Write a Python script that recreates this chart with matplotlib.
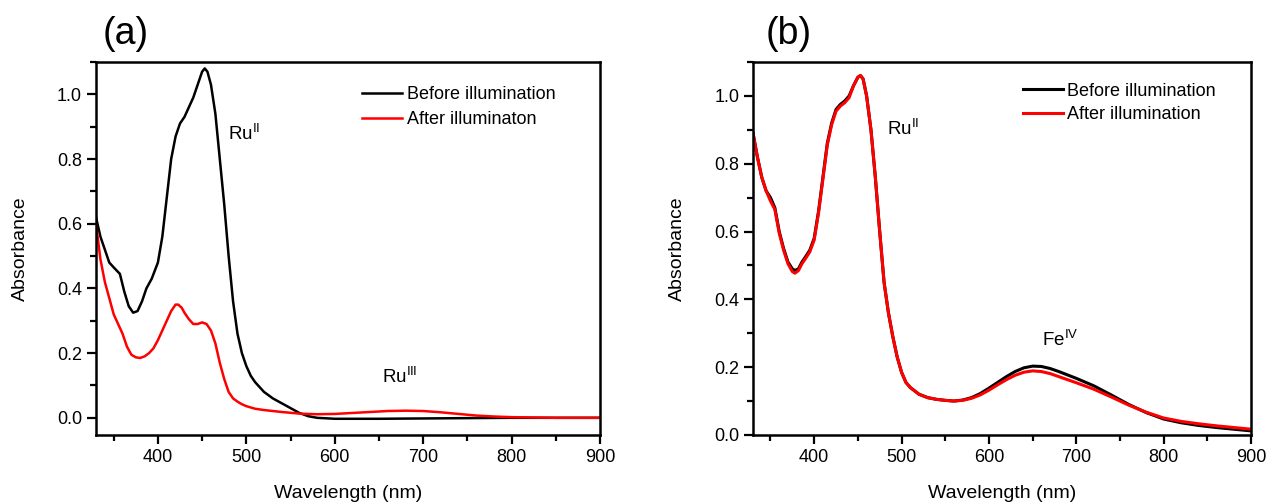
import matplotlib
matplotlib.use('Agg')
import matplotlib.pyplot as plt
from matplotlib.ticker import MultipleLocator

plt.rcParams['font.family'] = ['Liberation Sans', 'DejaVu Sans']

# Panel (a)
wl_a_before = [330, 335, 340, 345, 350, 357, 362, 367, 372, 377, 382, 387, 393, 400, 405, 410, 415, 420,
               425, 430, 435, 440, 445, 450, 453, 456, 460, 465, 470, 475, 480, 485, 490, 495, 500, 505,
               510, 520, 530, 540, 550, 560, 570, 580, 600, 650, 700, 750, 800, 850, 900]
abs_a_before = [0.62, 0.56, 0.52, 0.48, 0.465, 0.445, 0.39, 0.345, 0.325, 0.33, 0.36, 0.40, 0.43, 0.48, 0.56,
                0.68, 0.80, 0.87, 0.91, 0.93, 0.96, 0.99, 1.03, 1.07, 1.08, 1.07, 1.03, 0.94, 0.80, 0.66,
                0.50, 0.36, 0.26, 0.20, 0.16, 0.13, 0.11, 0.08, 0.06, 0.045, 0.03, 0.015, 0.005, 0.0,
                -0.003, -0.003, -0.002, -0.001, 0.0, 0.0, 0.0]

wl_a_after = [330, 335, 340, 345, 350, 355, 360, 365, 370, 375, 380, 385, 390, 395, 400, 405, 410, 415,
              420, 423, 427, 430, 435, 440, 445, 450, 455, 460, 465, 470, 475, 480, 485, 490, 495, 500,
              510, 520, 540, 560, 580, 600, 620, 640, 660, 680, 700, 720, 740, 760, 780, 800, 850, 900]
abs_a_after = [0.60, 0.49, 0.42, 0.37, 0.32, 0.29, 0.26, 0.22, 0.195, 0.187, 0.185, 0.19, 0.20, 0.215,
               0.24, 0.27, 0.30, 0.33, 0.35, 0.35, 0.34, 0.325, 0.305, 0.29, 0.29, 0.295, 0.29, 0.27,
               0.23, 0.17, 0.12, 0.08, 0.06, 0.05, 0.042, 0.036, 0.028, 0.024, 0.018, 0.013, 0.011,
               0.012, 0.015, 0.018, 0.021, 0.022, 0.021, 0.017, 0.012, 0.007, 0.004, 0.002, 0.0, 0.0]

# Panel (b)
wl_b = [330, 335, 340, 345, 350, 355, 360, 365, 370, 375, 378, 382, 386, 390, 395, 400, 405, 410, 415,
        420, 425, 430, 435, 440, 445, 450, 453, 456, 460, 465, 470, 475, 480, 485, 490, 495, 500, 505,
        510, 520, 530, 540, 550, 560, 570, 580, 590, 600, 610, 620, 630, 640, 650, 660, 670, 680, 690,
        700, 720, 740, 760, 780, 800, 820, 840, 860, 880, 900]
abs_b_before = [0.89, 0.82, 0.76, 0.72, 0.70, 0.67, 0.60, 0.55, 0.51, 0.49, 0.485, 0.49, 0.51, 0.525,
                0.545, 0.58, 0.66, 0.76, 0.86, 0.92, 0.96, 0.975, 0.985, 1.0, 1.03, 1.055, 1.06, 1.05,
                1.00, 0.90, 0.76, 0.60, 0.45, 0.36, 0.29, 0.23, 0.185, 0.155, 0.14, 0.12, 0.11, 0.105,
                0.102, 0.10, 0.103, 0.11, 0.122, 0.138, 0.155, 0.172, 0.187, 0.198, 0.203, 0.202, 0.196,
                0.187, 0.177, 0.167, 0.145, 0.118, 0.09, 0.066, 0.047, 0.036, 0.028, 0.022, 0.017, 0.012]
abs_b_after = [0.89, 0.82, 0.76, 0.72, 0.69, 0.665, 0.595, 0.545, 0.505, 0.482, 0.477, 0.485, 0.505, 0.52,
               0.54, 0.575, 0.655, 0.755, 0.855, 0.915, 0.955, 0.97, 0.98, 0.995, 1.03, 1.055, 1.06, 1.05,
               1.00, 0.90, 0.76, 0.60, 0.45, 0.36, 0.29, 0.23, 0.185, 0.155, 0.14, 0.12, 0.11, 0.105,
               0.102, 0.10, 0.102, 0.108, 0.118, 0.132, 0.148, 0.163, 0.176, 0.185, 0.189, 0.187, 0.181,
               0.172, 0.163, 0.154, 0.135, 0.112, 0.088, 0.067, 0.05, 0.04, 0.033, 0.027, 0.022, 0.017]

fig = plt.figure(figsize=(12.75, 5.04), dpi=100)
ax_a = fig.add_axes([0.0753, 0.137, 0.3953, 0.740])
ax_b = fig.add_axes([0.5906, 0.137, 0.3906, 0.740])

ax_a.plot(wl_a_before, abs_a_before, color='black', lw=1.8, label='Before illumination')
ax_a.plot(wl_a_after, abs_a_after, color='red', lw=1.8, label='After illuminaton')
ax_a.set_ylim(-0.053, 1.10)

ax_b.plot(wl_b, abs_b_before, color='black', lw=2.2, label='Before illumination')
ax_b.plot(wl_b, abs_b_after, color='red', lw=2.2, label='After illumination')
ax_b.set_ylim(0.0, 1.10)

for ax in (ax_a, ax_b):
    ax.set_xlim(330, 900)
    ax.xaxis.set_major_locator(MultipleLocator(100))
    ax.xaxis.set_minor_locator(MultipleLocator(50))
    ax.yaxis.set_major_locator(MultipleLocator(0.2))
    ax.yaxis.set_minor_locator(MultipleLocator(0.1))
    ax.yaxis.set_major_formatter(plt.FormatStrFormatter('%.1f'))
    ax.tick_params(which='major', direction='out', length=6.5, width=1.6, labelsize=13, pad=3.5,
                   colors='black')
    ax.tick_params(which='minor', direction='out', length=4, width=1.6)
    for s in ax.spines.values():
        s.set_linewidth(1.8)
    ax.set_xlabel('Wavelength (nm)', fontsize=14, labelpad=14)
    ax.set_ylabel('Absorbance', fontsize=14, labelpad=20)

ax_a.legend(loc='upper left', bbox_to_anchor=(0.528, 0.935), frameon=False, fontsize=13,
            handlelength=2.2, handletextpad=0.28, labelspacing=0.45, borderpad=0, borderaxespad=0)
ax_b.legend(loc='upper left', bbox_to_anchor=(0.542, 0.945), frameon=False, fontsize=13,
            handlelength=2.2, handletextpad=0.22, labelspacing=0.38, borderpad=0, borderaxespad=0)

ax_a.text(497, 0.88, 'Ru$^{\\mathregular{II}}$', fontsize=13.5, ha='center', va='center')
ax_a.text(673, 0.126, 'Ru$^{\\mathregular{III}}$', fontsize=13.5, ha='center', va='center')
ax_b.text(502, 0.905, 'Ru$^{\\mathregular{II}}$', fontsize=13.5, ha='center', va='center')
ax_b.text(682, 0.28, 'Fe$^{\\mathregular{IV}}$', fontsize=13.5, ha='center', va='center')

fig.text(126 / 1275, 1 - 34 / 504, '(a)', fontsize=27, ha='center', va='center')
fig.text(789 / 1275, 1 - 34 / 504, '(b)', fontsize=27, ha='center', va='center')

fig.savefig('out.png', dpi=100)
